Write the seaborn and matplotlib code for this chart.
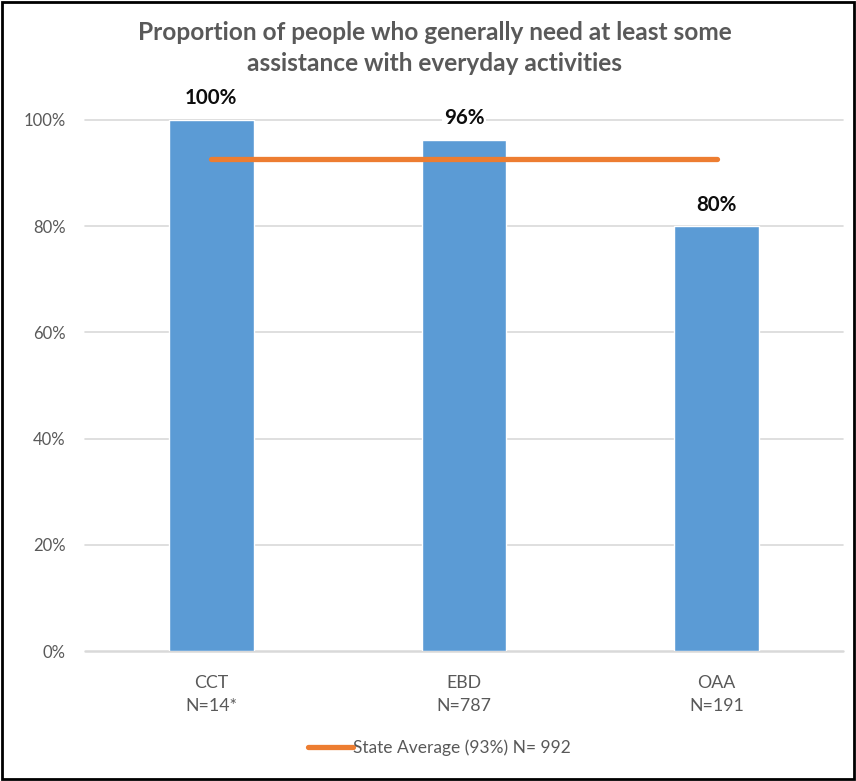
import matplotlib
matplotlib.use("Agg")
import matplotlib.pyplot as plt
import seaborn as sns
import pandas as pd
from matplotlib.lines import Line2D
from matplotlib.patches import Rectangle

categories = ["CCT\nN=14*", "EBD\nN=787", "OAA\nN=191"]
values = [1.00, 0.962, 0.80]
value_labels = ["100%", "96%", "80%"]
state_avg = 0.926
state_label = "State Average (93%) N= 992"
yticks = [0, 0.2, 0.4, 0.6, 0.8, 1.0]
ytick_labels = ["0%", "20%", "40%", "60%", "80%", "100%"]
title = "Proportion of people who generally need at least some\nassistance with everyday activities"

sns.set_theme(style="white")
plt.rcParams['font.family'] = ['Lato', 'DejaVu Sans']

df = pd.DataFrame({"cat": categories, "val": values})

fig = plt.figure(figsize=(8.56, 7.81), dpi=100)
ax = fig.add_axes([85/856, 1-651/781, (843-85)/856, (651-120)/781])

sns.barplot(data=df, x="cat", y="val", color="#5B9BD5", width=0.336, saturation=1, ax=ax, zorder=2)
ax.set_xlim(-0.5, 2.5)
ax.set_ylim(0, 1.0)
ax.set_yticks(yticks)
ax.set_yticklabels(ytick_labels, color="#595959", fontsize=12)
ax.tick_params(axis='x', colors="#595959", labelsize=12.8, length=0, pad=17.5)
ax.tick_params(axis='y', length=0, pad=14)
for t in ax.get_xticklabels():
    t.set_linespacing(1.5)
ax.set_xlabel("")
ax.set_ylabel("")
for s in ax.spines.values():
    s.set_visible(False)
for yv in yticks:
    ax.axhline(yv, color="#D9D9D9", lw=1.2 if yv > 0 else 1.8, zorder=0, clip_on=False)

ax.plot([0, 2], [state_avg, state_avg], color="#ED7D31", lw=3.8, solid_capstyle="round", zorder=3)

for i, (v, lab) in enumerate(zip(values, value_labels)):
    ax.text(i, v + 0.022, lab, ha="center", va="bottom", fontsize=14.8, fontweight="bold",
            color="#0d0d0d", zorder=4,
            bbox=dict(facecolor="white", edgecolor="none", pad=1.5), clip_on=False)

fig.text(0.508, 1-48/781, title, ha="center", va="center", fontsize=17.6, fontweight="bold",
         color="#595959", linespacing=1.45)

handle = Line2D([], [], color="#ED7D31", lw=3.8)
fig.legend([handle], [state_label], loc="center", bbox_to_anchor=(439/856, 1-748/781),
           frameon=False, fontsize=12.5, labelcolor="#595959", handlelength=2.6, handletextpad=0.0)

fig.patches.append(Rectangle((2/856, 2/781), 1-4/856, 1-4/781, transform=fig.transFigure,
                             fill=False, edgecolor="black", lw=2))

fig.savefig("out.png", dpi=100)
